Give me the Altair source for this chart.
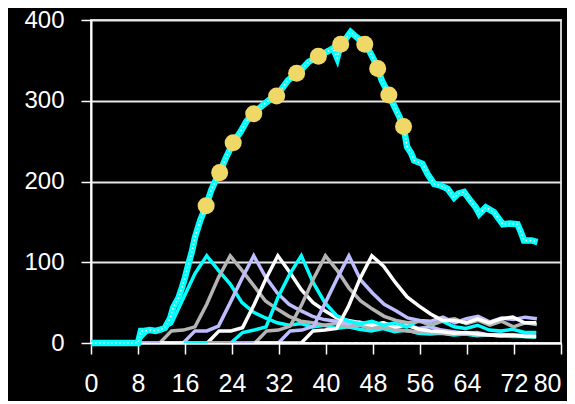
import altair as alt
import pandas as pd

# ---------------- data ----------------
X_TICKS = [0, 8, 16, 24, 32, 40, 48, 56, 64, 72, 80]
Y_TICKS = [0, 100, 200, 300, 400]

MAIN_X = [0, 8, 8.5, 9, 10, 11, 12, 12.6, 13.5, 14, 14.9, 15.5, 16, 16.6, 17.2, 17.7, 18.6,
          19.6, 20.5, 21.2, 21.9, 23, 24.2, 25.5, 26.5, 27.7, 28.5, 29.5, 30.5, 31.6, 32.5,
          33.5, 35, 36, 37, 38, 38.7, 39.5, 40.5, 41.2, 41.9, 42.5, 43.2, 44.2, 45, 46, 46.6,
          47.5, 48.2, 48.8, 49.5, 50.2, 50.7, 51.5, 52.5, 53.2, 53.8, 54.5, 55, 56.4, 57.3,
          58.4, 59.5, 60.7, 61.8, 62.5, 63.5, 64.6, 65.5, 66.1, 67.2, 68.6, 69.3, 70.1, 71.3,
          72.6, 73.2, 73.7, 75, 76]
MAIN_Y = [0, 0, 15, 15, 16, 15, 17, 19, 31, 44, 56, 69, 81, 98, 114, 131, 152,
          170, 190, 201, 211, 230, 248, 262, 275, 284, 290, 296, 302, 306, 315,
          325, 334, 340, 348, 352, 355, 358, 362, 365, 353, 370, 375, 385, 380, 374, 370,
          360, 350, 340, 325, 315, 307, 295, 280, 268, 243, 235, 226, 222, 209,
          197, 195, 191, 180, 185, 187, 176, 168, 160, 168, 162, 155, 147, 148,
          147, 137, 127, 127, 125]

DOT_X = [19.6, 21.9, 24.2, 27.7, 31.6, 35.0, 38.7, 42.5, 46.6, 48.8, 50.7, 53.2]
DOT_Y = [170, 211, 248, 284, 306, 334, 355, 370, 370, 340, 307, 268]

# relative days around each wave peak
OFFSETS = [-20, -12, -10, -8, -6, -4, -2, 0, 2, 4, 6, 8, 10, 12, 14, 16, 18, 20, 22, 24,
           26, 28, 30, 32, 34, 36, 38, 40, 42, 44, 46, 48, 50, 52, 54, 56]
PEAKS = [19.7, 23.7, 27.7, 31.8, 35.8, 39.9, 43.9, 47.8]
WAVE_COLORS = ["#00FFFF", "#B4B4B4", "#BDBDFF", "#FFFFFF",
               "#00FFFF", "#B4B4B4", "#BDBDFF", "#FFFFFF"]
WAVES = [
    [0, 0, 15, 16, 24, 55, 86, 108, 90, 73, 50, 38, 31, 25, 22, 24, 20, 22, 18, 20, 17, 15,
     18, 14, 16, 12, 11, 12, 10, 11, 9, 10, 9, 8, 8, 7],
    [0, 0, 15, 16, 20, 48, 81, 108, 90, 71, 52, 42, 33, 27, 25, 22, 24, 20, 22, 18, 20, 17,
     15, 14, 13, 12, 11, 12, 10, 10, 9, 10, 9, 9],
    [0, 0, 15, 15, 21, 50, 80, 108, 82, 62, 48, 40, 33, 29, 27, 24, 26, 22, 25, 20, 23, 18,
     20, 16, 14, 12, 13, 10, 11, 9, 10, 8],
    [0, 0, 15, 15, 19, 48, 80, 108, 88, 66, 50, 40, 31, 28, 25, 22, 25, 20, 22, 17, 15, 14,
     12, 13, 11, 10, 9, 10, 8, 8],
    [0, 0, 13, 16, 20, 56, 85, 108, 75, 50, 34, 27, 24, 27, 22, 25, 20, 28, 22, 27, 20, 18,
     22, 16, 15, 17, 13, 13],
    [0, 0, 15, 16, 21, 48, 80, 108, 90, 68, 52, 42, 33, 28, 25, 27, 22, 28, 30, 24, 28, 22,
     27, 20, 25, 23],
    [0, 0, 15, 16, 21, 50, 80, 108, 78, 62, 48, 40, 31, 28, 27, 32, 25, 30, 33, 26, 31, 29,
     32, 30],
    [0, 0, 15, 16, 18, 45, 80, 108, 95, 75, 57, 46, 36, 28, 28, 25, 30, 25, 30, 32, 25, 25],
]
BASE_X = [34, 76]
BASE_Y = [0, 0]

# ---------------- scales / axes ----------------
XS = alt.Scale(domain=[0, 80], nice=False, zero=False)
YS = alt.Scale(domain=[0, 400], nice=False)
XAX = alt.Axis(values=X_TICKS, title=None, grid=False, tickSize=11, labelPadding=17,
               labelFontSize=25, labelColor="white", labelFont="Liberation Sans",
               domainColor="white", domainWidth=2, tickColor="white", tickWidth=1.5,
               labelFlush=False,
               labelAlign={"condition": {"test": "datum.value == 80", "value": "right"},
                           "value": "center"})
YAX = alt.Axis(values=Y_TICKS, title=None, grid=True, gridColor="#E6E6E6", gridWidth=2,
               tickSize=10, labelPadding=17, labelFontSize=24, labelColor="white",
               labelFont="Liberation Sans", domainColor="white", domainWidth=2,
               tickColor="white", tickWidth=1.5)


def xe():
    return alt.X("x:Q", scale=XS, axis=XAX)


def ye():
    return alt.Y("y:Q", scale=YS, axis=YAX)


layers = []
for peak, color, vals in zip(PEAKS, WAVE_COLORS, WAVES):
    df = pd.DataFrame({"x": [peak + o for o in OFFSETS[:len(vals)]], "y": vals})
    layers.append(alt.Chart(df).mark_line(color=color, strokeWidth=3.5, clip=True)
                  .encode(x=xe(), y=ye()))

base_df = pd.DataFrame({"x": BASE_X, "y": BASE_Y})
layers.append(alt.Chart(base_df).mark_line(color="white", strokeWidth=2, strokeDash=[4, 3])
              .encode(x=xe(), y=ye()))

main_df = pd.DataFrame({"x": MAIN_X, "y": MAIN_Y})
layers.append(alt.Chart(main_df).mark_line(color="#00FFFF", strokeWidth=6.5)
              .encode(x=xe(), y=ye()))
layers.append(alt.Chart(main_df).mark_line(color="white", strokeWidth=1.5, strokeDash=[1.5, 2.5])
              .encode(x=xe(), y=ye()))

dot_df = pd.DataFrame({"x": DOT_X, "y": DOT_Y})
layers.append(alt.Chart(dot_df).mark_circle(color="#EFD866", size=290, opacity=1)
              .encode(x=xe(), y=ye()))

chart = (alt.layer(*layers)
         .properties(width=470, height=323, background="black",
                     padding={"left": 83, "top": 12, "right": 6, "bottom": 58},
                     autosize=alt.AutoSizeParams(type="none"),
                     usermeta={"embedOptions": {"defaultStyle": "body { background: #000000; }"}})
         .configure_view(stroke="#C8C8C8", strokeWidth=2))

chart.save("out.html", embed_options={"renderer": "svg", "actions": False})
